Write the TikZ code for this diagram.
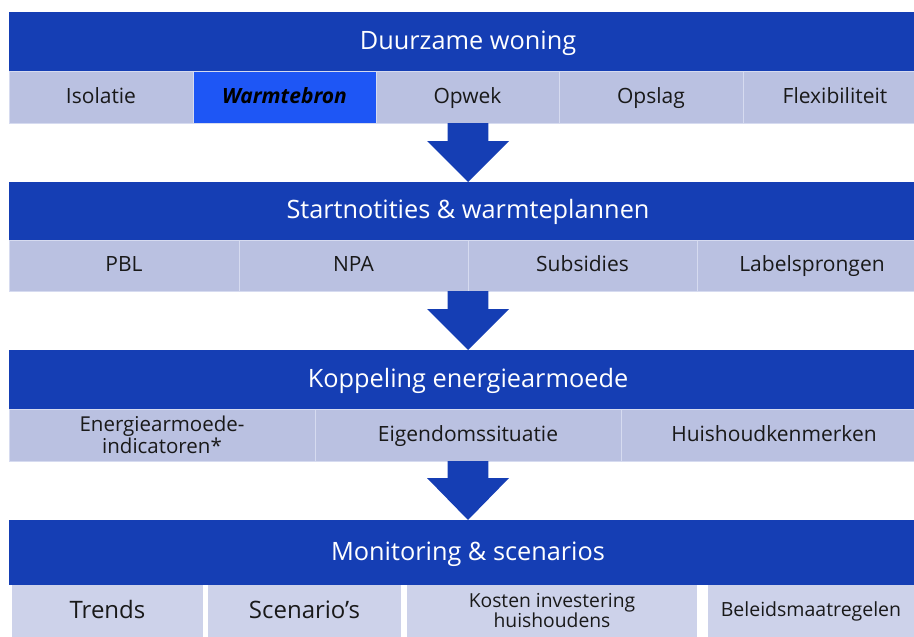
\documentclass[tikz,border=0pt]{standalone}
\usepackage{fontspec}
\setmainfont{Open Sans}
\usetikzlibrary{calc}
\definecolor{barblue}{RGB}{21,62,180}
\definecolor{hiblue}{RGB}{30,86,245}
\definecolor{cellgray}{RGB}{186,193,225}
\definecolor{cellpale}{RGB}{205,210,234}
\definecolor{cellline}{RGB}{214,219,240}
\tikzset{
  titlebar/.style={fill=barblue, draw=none, inner sep=0pt, outer sep=0pt,
    text=white, font=\fontsize{25.3}{28}\selectfont, text height=18pt, text depth=3pt},
  cellbox/.style={fill=cellgray, draw=cellline, line width=0.8pt, inner sep=0pt, outer sep=0pt,
    text=black!90, align=center, font=\fontsize{21}{19}\selectfont},
  oneline/.style={text height=15pt, text depth=3pt},
  hicell/.style={cellbox, fill=hiblue, text=black, font=\fontsize{21}{19}\selectfont\bfseries\itshape},
  palecell/.style={fill=cellpale, draw=none, inner sep=0pt, outer sep=0pt,
    text=black!90, align=center},
  blockarrow/.style={fill=barblue, draw=none},
}
\begin{document}
\begin{tikzpicture}[x=1pt,y=-1pt]
\useasboundingbox (0,0) rectangle (914,637);
\clip (0,0) rectangle (914,637);

% ---------- Bar 1
\node[titlebar, minimum width=918, minimum height=59] (t1) at (468,41.5) {Duurzame woning};
\node[cellbox, oneline, minimum width=184, minimum height=52] (s1a) at (101,97) {Isolatie};
\node[hicell, oneline, minimum width=183, minimum height=52] (s1b) at (284.5,97) {Warmtebron};
\node[cellbox, oneline, minimum width=183, minimum height=52] (s1c) at (467.5,97) {Opwek};
\node[cellbox, oneline, minimum width=184, minimum height=52] (s1d) at (651,97) {Opslag};
\node[cellbox, oneline, minimum width=184, minimum height=52] (s1e) at (835,97) {Flexibiliteit};

% ---------- Bar 2
\node[titlebar, minimum width=918, minimum height=58] (t2) at (468,211) {Startnotities \& warmteplannen};
\node[cellbox, oneline, minimum width=230, minimum height=51] (s2a) at (124,265.5) {PBL};
\node[cellbox, oneline, minimum width=229, minimum height=51] (s2b) at (353.5,265.5) {NPA};
\node[cellbox, oneline, minimum width=229, minimum height=51] (s2c) at (582.5,265.5) {Subsidies};
\node[cellbox, oneline, minimum width=230, minimum height=51] (s2d) at (812,265.5) {Labelsprongen};

% ---------- Bar 3
\node[titlebar, minimum width=918, minimum height=59] (t3) at (468,379.5) {Koppeling energiearmoede};
\node[cellbox, minimum width=306, minimum height=52, font=\fontsize{20.5}{18.5}\selectfont] (s3a) at (162,435) {Energiearmoede-\\indicatoren*};
\node[cellbox, oneline, minimum width=306, minimum height=52] (s3b) at (468,435) {Eigendomssituatie};
\node[cellbox, oneline, minimum width=306, minimum height=52] (s3c) at (774,435) {Huishoudkenmerken};

% ---------- Bar 4
\node[titlebar, minimum width=918, minimum height=65] (t4) at (468,552.5) {Monitoring \& scenarios};
\node[palecell, minimum width=191, minimum height=52, font=\fontsize{24}{26}\selectfont, text height=17pt, text depth=3pt] (s4a) at (107.5,611) {Trends};
\node[palecell, minimum width=193, minimum height=52, font=\fontsize{24}{26}\selectfont, text height=17pt, text depth=3pt] (s4b) at (304.5,611) {Scenario’s};
\node[palecell, minimum width=290, minimum height=52, font=\fontsize{19.3}{20}\selectfont] (s4c) at (552,611) {Kosten investering\\huishoudens};
\node[palecell, minimum width=206, minimum height=52, font=\fontsize{19.5}{20}\selectfont, text height=14pt, text depth=3pt] (s4d) at (811,611) {Beleidsmaatregelen};

% ---------- Block arrows
\foreach \src/\dst/\hd in {s1c/t2/18, s2c/t3/18, s3b/t4/17} {
  \coordinate (top) at (468,0);
  \fill[blockarrow]
    ($(top |- \src.south)+(-20.3,0)$) -- ($(top |- \src.south)+(20.3,0)$)
    -- ($(top |- \src.south)+(20.3,\hd)$) -- ($(top |- \src.south)+(41,\hd)$)
    -- (top |- \dst.north)
    -- ($(top |- \src.south)+(-41,\hd)$) -- ($(top |- \src.south)+(-20.3,\hd)$) -- cycle;
}
\end{tikzpicture}
\end{document}
